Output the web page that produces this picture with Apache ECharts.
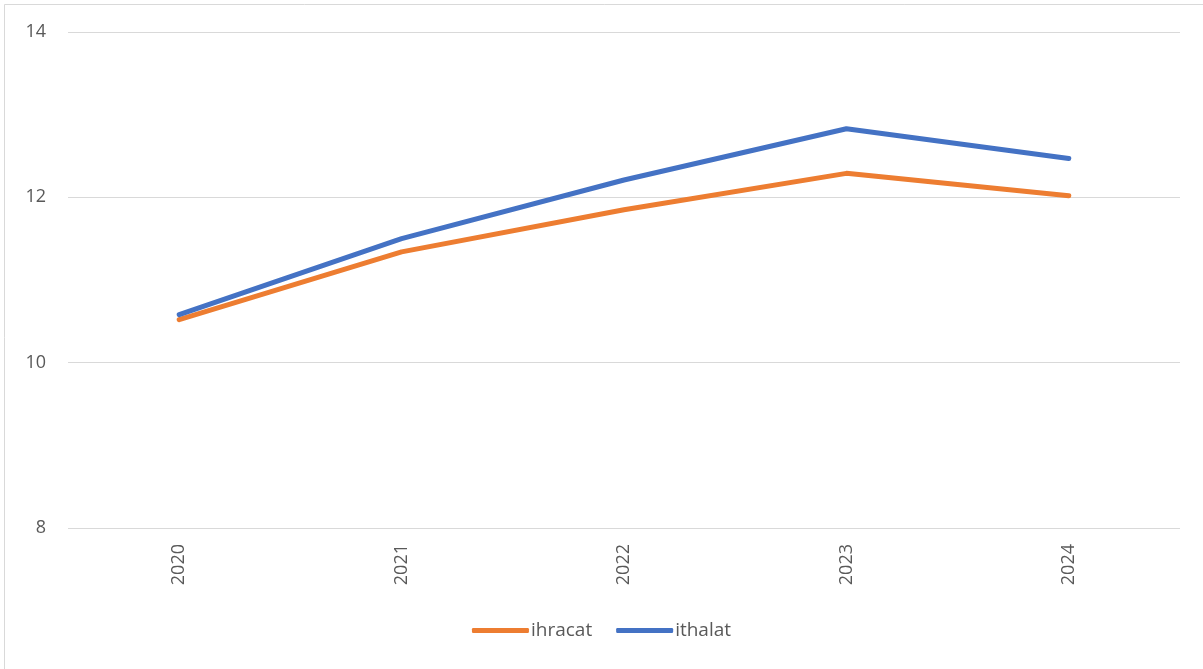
<!DOCTYPE html>
<html>
<head>
<meta charset="utf-8">
<script src="https://cdn.jsdelivr.net/npm/echarts@6/dist/echarts.min.js"></script>
<style>
  html, body { margin: 0; padding: 0; background: #fff; }
  #chart { width: 1203px; height: 669px; }
</style>
</head>
<body>
<div id="chart"></div>
<script>
var years = ['2020', '2021', '2022', '2023', '2024'];
var ihracat = [10.52, 11.34, 11.85, 12.29, 12.02];
var ithalat = [10.58, 11.50, 12.21, 12.83, 12.47];

var chart = echarts.init(document.getElementById('chart'));
var textColor = '#595959';
var font = '"Open Sans", "Liberation Sans", sans-serif';

var option = {
  backgroundColor: '#fff',
  animation: false,
  graphic: [{
    type: 'rect',
    shape: { x: 4.5, y: 4.5, width: 1210, height: 680 },
    style: { fill: 'none', stroke: '#d9d9d9', lineWidth: 1 },
    silent: true
  }],
  grid: { left: 68, right: 23, top: 32, bottom: 141 },
  legend: {
    bottom: 24,
    left: 'center',
    itemWidth: 57,
    itemHeight: 5,
    itemGap: 24,
    icon: 'roundRect',
    textStyle: { color: textColor, fontSize: 19, fontFamily: font, padding: [0, 0, 0, -3] },
    data: ['ihracat', 'ithalat']
  },
  xAxis: {
    type: 'category',
    data: years,
    boundaryGap: true,
    axisLine: { show: false },
    axisTick: { show: false },
    axisLabel: { rotate: 90, margin: 16, color: textColor, fontSize: 18, fontFamily: font }
  },
  yAxis: {
    type: 'value',
    min: 8,
    max: 14,
    interval: 2,
    axisLine: { show: false },
    axisTick: { show: false },
    splitLine: { lineStyle: { color: '#d9d9d9', width: 1 } },
    axisLabel: { margin: 22, color: textColor, fontSize: 18, fontFamily: font }
  },
  series: [{
    name: 'ihracat',
    type: 'line',
    data: ihracat,
    symbol: 'none',
    color: '#ED7D31',
    lineStyle: { width: 5, color: '#ED7D31', cap: 'round', join: 'round' }
  }, {
    name: 'ithalat',
    type: 'line',
    data: ithalat,
    symbol: 'none',
    color: '#4472C4',
    lineStyle: { width: 5, color: '#4472C4', cap: 'round', join: 'round' }
  }]
};
chart.setOption(option);
</script>
</body>
</html>
